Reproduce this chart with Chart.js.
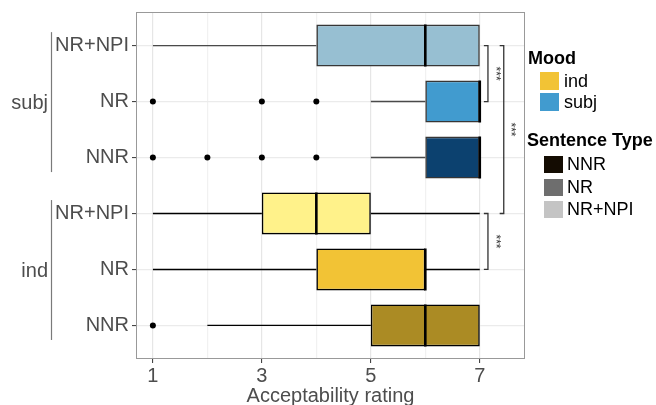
<!DOCTYPE html>
<html><head><meta charset="utf-8">
<script src="https://cdn.jsdelivr.net/npm/chart.js@4.4.1/dist/chart.umd.min.js"></script>
<style>
html,body{margin:0;padding:0;background:#fff;}
#wrap{position:relative;width:656px;height:405px;overflow:hidden;font-family:"Liberation Sans",Arial,sans-serif;}
canvas{position:absolute;left:0;top:0;}
.lt{position:absolute;font-weight:bold;font-size:18px;color:#000;line-height:18px;white-space:nowrap;}
.sw{position:absolute;}
.ll{position:absolute;font-size:18px;color:#000;line-height:18px;white-space:nowrap;}
</style></head><body>
<div id="wrap"><canvas id="c" width="656" height="405"></canvas><div id="legend"></div></div>
<script>
// ---- data (top row to bottom row) ----
const categories = ['NR+NPI','NR','NNR','NR+NPI','NR','NNR'];
const moods      = ['subj','subj','subj','ind','ind','ind'];
const groupLabels = ['subj','ind'];
const whiskerLow  = [1,5,5,1,1,2];
const q1          = [4,6,6,3,4,5];
const medians     = [6,7,7,4,6,6];
const q3          = [7,7,7,5,6,7];
const whiskerHigh = [7,7,7,7,7,7];
const outliers    = [[],[1,3,4],[1,2,3,4],[],[],[1]];
const xTicks      = [1,2,3,4,5,6,7];
const xTickLabels = ['1','','3','','5','','7'];
const sigFrom     = [0,0,3];
const sigTo       = [1,3,4];
const sigX        = [7.15,7.44,7.15];
const sigLabels   = ['***','***','***'];
const moodLevels  = ['ind','subj'];
const typeLevels  = ['NNR','NR','NR+NPI'];

// ---- styles ----
const BOXW = 0.75; // box thickness as share of row spacing
const fillColors = {
  'subj|NR+NPI':'#97bfd2','subj|NR':'#419bcf','subj|NNR':'#0c416f',
  'ind|NR+NPI':'#fff28a','ind|NR':'#f2c335','ind|NNR':'#ab8b24'
};
const moodColors = {ind:'#f2c335', subj:'#419bcf'};
const typeColors = {'NNR':'#140c02','NR':'#6e6e6e','NR+NPI':'#c4c4c4'};
const edgeColors = {subj:'#363636', ind:'#000000'};
const FONT = '"Liberation Sans", Arial, sans-serif';

function isMajor(c){ return !!(c && c.tick && xTickLabels[xTicks.indexOf(c.tick.value)]); }

// ---- datasets built from arrays ----
const boxData = categories.map((c,i)=>({x:[q1[i],q3[i]], y:i}));
const medianData = [];
categories.forEach((c,i)=>medianData.push({x:medians[i], y:i-BOXW/2},{x:medians[i], y:i+BOXW/2},{x:null,y:null}));
const outlierData = [];
outliers.forEach((arr,i)=>arr.forEach(v=>outlierData.push({x:v,y:i})));
function whiskers(m){
  const pts=[];
  categories.forEach((c,i)=>{
    if(moods[i]!==m) return;
    if(whiskerLow[i]<q1[i]) pts.push({x:whiskerLow[i],y:i},{x:q1[i],y:i},{x:null,y:null});
    if(whiskerHigh[i]>q3[i]) pts.push({x:q3[i],y:i},{x:whiskerHigh[i],y:i},{x:null,y:null});
  });
  return pts;
}
const TICKW = 0.075; // bracket tick length in rating units
const bracketData = [];
sigFrom.forEach((f,i)=>{
  bracketData.push({x:sigX[i]-TICKW,y:f},{x:sigX[i],y:f},{x:sigX[i],y:sigTo[i]},{x:sigX[i]-TICKW,y:sigTo[i]},{x:null,y:null});
});

const overlay = {
  id:'overlay',
  afterDraw(chart){
    const {ctx, chartArea:a, scales:{x,y}} = chart;
    ctx.save();
    ctx.strokeStyle='#999999'; ctx.lineWidth=1;
    ctx.strokeRect(a.left+0.5, a.top+0.5, a.right-a.left-1, a.bottom-a.top-1);
    ctx.fillStyle='#333333'; ctx.font='12px '+FONT; ctx.textAlign='center'; ctx.textBaseline='middle';
    sigFrom.forEach((f,i)=>{
      const px = x.getPixelForValue(sigX[i]) + 7;
      const py = (y.getPixelForValue(f)+y.getPixelForValue(sigTo[i]))/2;
      ctx.save(); ctx.translate(px,py); ctx.rotate(Math.PI/2); ctx.fillText(sigLabels[i],0,0); ctx.restore();
    });
    groupLabels.forEach(g=>{
      const idx = moods.map((m,i)=>m===g?i:-1).filter(i=>i>=0);
      const y0 = y.getPixelForValue(Math.min(...idx)-0.24);
      const y1 = y.getPixelForValue(Math.max(...idx)+0.26);
      ctx.strokeStyle='#7a7a7a'; ctx.lineWidth=1.2;
      ctx.beginPath(); ctx.moveTo(51.5,y0); ctx.lineTo(51.5,y1); ctx.stroke();
      ctx.fillStyle='#4d4d4d'; ctx.font='20px '+FONT; ctx.textAlign='right'; ctx.textBaseline='middle';
      ctx.fillText(g, 48, (y0+y1)/2+1);
    });
    ctx.restore();
  }
};

// ---- legend (HTML) ----
const L = document.getElementById('legend');
function add(cls, css, text){ const d=document.createElement('div'); d.className=cls; d.style.cssText=css; if(text!==undefined) d.textContent=text; L.appendChild(d); }
add('lt','left:528px;top:49px;','Mood');
moodLevels.forEach((m,i)=>{
  const top = 72 + i*21;
  add('sw',`left:540px;top:${top}px;width:19px;height:18px;background:${moodColors[m]};`);
  add('ll',`left:564px;top:${top}px;`, m);
});
add('lt','left:527px;top:131px;','Sentence Type');
typeLevels.forEach((t,i)=>{
  const top = 156 + i*22.5;
  add('sw',`left:544px;top:${top}px;width:19px;height:17px;background:${typeColors[t]};`);
  add('ll',`left:567px;top:${top-1}px;`, t);
});

new Chart(document.getElementById('c'), {
  type:'bar',
  data:{datasets:[
    {type:'line', data:medianData, order:0, borderColor:'#000', borderWidth:2.6, pointRadius:0, spanGaps:false},
    {type:'scatter', data:outlierData, order:1, pointRadius:3, pointHoverRadius:3, pointBackgroundColor:'#000', pointBorderColor:'#000', pointBorderWidth:0},
    {type:'bar', data:boxData, order:2, indexAxis:'y', barPercentage:BOXW, categoryPercentage:1,
     backgroundColor: categories.map((c,i)=>fillColors[moods[i]+'|'+c]),
     borderColor: categories.map((c,i)=>edgeColors[moods[i]]),
     borderWidth:1.6, borderSkipped:false},
    {type:'line', data:whiskers('subj'), order:3, borderColor:'#4a4a4a', borderWidth:1.4, pointRadius:0, spanGaps:false},
    {type:'line', data:whiskers('ind'), order:3, borderColor:'#000', borderWidth:1.4, pointRadius:0, spanGaps:false},
    {type:'line', data:bracketData, order:3, borderColor:'#333', borderWidth:1.3, pointRadius:0, spanGaps:false}
  ]},
  options:{
    responsive:false, animation:false, devicePixelRatio:1,
    layout:{padding:{top:12,right:131,left:0,bottom:0}},
    plugins:{legend:{display:false}, tooltip:{enabled:false}},
    events:[],
    scales:{
      x:{type:'linear', position:'bottom', min:0.69, max:7.83, offset:false,
        afterBuildTicks:s=>{s.ticks = xTicks.map(v=>({value:v}));},
        afterFit:s=>{s.height=46; s.paddingLeft=0; s.paddingRight=0;},
        ticks:{autoSkip:false, maxRotation:0, padding:1, color:'#4d4d4d', font:{family:FONT,size:20},
          callback:(v)=>xTickLabels[xTicks.indexOf(v)]},
        grid:{offset:false, color:c=>isMajor(c)?'#e6e6e6':'#f1f1f1', lineWidth:1.2,
          tickLength:4, tickColor:c=>isMajor(c)?'#333':'rgba(0,0,0,0)', tickWidth:1},
        border:{display:false},
        title:{display:true, text:'Acceptability rating', color:'#4d4d4d', font:{family:FONT,size:20,lineHeight:1.1}, padding:{top:0,bottom:-2}}
      },
      y:{type:'linear', position:'left', min:-0.6, max:5.6, reverse:true, offset:false,
        afterBuildTicks:s=>{s.ticks = categories.map((c,i)=>({value:i}));},
        afterFit:s=>{s.width=136; s.paddingTop=0; s.paddingBottom=0;},
        ticks:{autoSkip:false, padding:3, color:'#4d4d4d', font:{family:FONT,size:20},
          callback:(v)=>categories[v]},
        grid:{offset:false, color:'#ebebeb', lineWidth:1.2, tickLength:4, tickColor:'#333', tickWidth:1},
        border:{display:false}
      }
    }
  },
  plugins:[overlay]
});
</script>
</body></html>
